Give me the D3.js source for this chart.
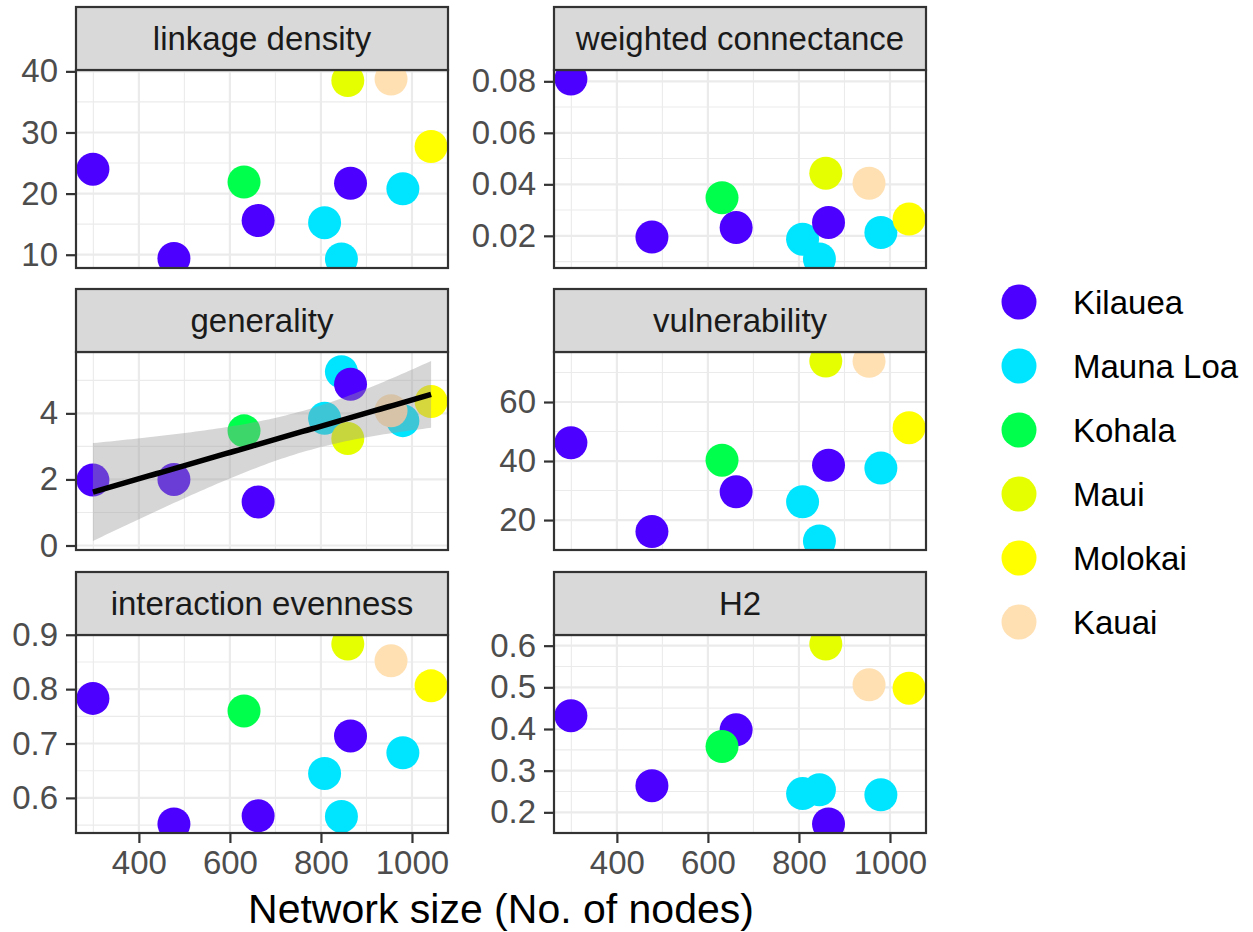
<!DOCTYPE html>
<html>
<head>
<meta charset="utf-8">
<script src="https://cdn.jsdelivr.net/npm/d3@7"></script>
<style>
  body { margin: 0; background: #fff; }
  text { font-family: "Liberation Sans", Arial, sans-serif; }
</style>
</head>
<body>
<svg id="chart" width="1253" height="932"></svg>
<script>
// sites and their colours (topo.colors palette)
const siteNames = ["Kilauea", "Mauna Loa", "Kohala", "Maui", "Molokai", "Kauai"]
const siteColors = ["#4C00FF", "#00E5FF", "#00FF4D", "#E6FF00", "#FFFF00", "#FFE0B3"]

// one entry per network
const site = ["Mauna Loa", "Mauna Loa", "Mauna Loa", "Kilauea", "Kilauea", "Kilauea", "Kohala", "Kilauea", "Maui", "Molokai", "Kauai"]
const nodes = [808, 845, 980, 299, 477, 662, 631, 865, 859, 1042, 954]

const linkageDensity = [15.25, 9.3, 20.8, 24.0, 9.4, 15.6, 21.9, 21.7, 38.5, 27.7, 38.75]
const weightedConnectance = [0.0187, 0.011, 0.0213, 0.0809, 0.0195, 0.0232, 0.0348, 0.0252, 0.0443, 0.0265, 0.0404]
const generality = [3.85, 5.26, 3.78, 1.98, 2.0, 1.32, 3.47, 4.88, 3.24, 4.36, 4.08]
const vulnerability = [26.2, 12.9, 37.6, 46.2, 16.1, 29.6, 40.3, 38.6, 73.9, 51.3, 73.8]
const interactionEvenness = [0.645, 0.566, 0.683, 0.783, 0.552, 0.567, 0.76, 0.714, 0.883, 0.806, 0.852]
const h2 = [0.245, 0.254, 0.242, 0.432, 0.264, 0.398, 0.358, 0.172, 0.604, 0.498, 0.506]

// tick labels
const xTicks = ["400", "600", "800", "1000"]
const ldTicks = ["10", "20", "30", "40"]
const wcTicks = ["0.02", "0.04", "0.06", "0.08"]
const genTicks = ["0", "2", "4"]
const vulTicks = ["20", "40", "60"]
const ieTicks = ["0.6", "0.7", "0.8", "0.9"]
const h2Ticks = ["0.2", "0.3", "0.4", "0.5", "0.6"]

const panels = [
  { title: "linkage density", values: linkageDensity, ticks: ldTicks },
  { title: "weighted connectance", values: weightedConnectance, ticks: wcTicks },
  { title: "generality", values: generality, ticks: genTicks, smooth: true },
  { title: "vulnerability", values: vulnerability, ticks: vulTicks },
  { title: "interaction evenness", values: interactionEvenness, ticks: ieTicks },
  { title: "H2", values: h2, ticks: h2Ticks }
]

// layout
const colX = [76, 554], panelW = 372
const rowTop = [7, 289, 572], stripH = 63, panelH = 198
const radius = 16.5
const grey20 = "#333333"
const smallFont = 33

const svg = d3.select("#chart")
svg.append("rect").attr("width", 1253).attr("height", 932).attr("fill", "#fff")

const color = d3.scaleOrdinal().domain(siteNames).range(siteColors)

function expand(ext, f) {
  const d = (ext[1] - ext[0]) * f
  return [ext[0] - d, ext[1] + d]
}

// minor breaks halfway between majors, one extra each side
function minors(major, dom) {
  const step = major[1] - major[0]
  const out = []
  for (let i = -1; i < major.length; i++) {
    const m = major[0] + step * (i + 0.5)
    if (m > dom[0] && m < dom[1]) out.push(m)
  }
  return out
}

// linear fit with 95% confidence band (like geom_smooth(method = "lm"))
function lmFit(xs, ys) {
  const n = xs.length
  const mx = d3.mean(xs), my = d3.mean(ys)
  let sxx = 0, sxy = 0
  xs.forEach((x, i) => { sxx += (x - mx) ** 2; sxy += (x - mx) * (ys[i] - my) })
  const b = sxy / sxx, a = my - b * mx
  let sse = 0
  xs.forEach((x, i) => { sse += (ys[i] - a - b * x) ** 2 })
  const s = Math.sqrt(sse / (n - 2))
  const t = 2.262 // qt(0.975, df = 9)
  const ext = d3.extent(xs)
  return d3.range(80).map(k => {
    const x = ext[0] + (ext[1] - ext[0]) * k / 79
    const fit = a + b * x
    const se = s * Math.sqrt(1 / n + (x - mx) ** 2 / sxx)
    return { x: x, y: fit, lo: fit - t * se, hi: fit + t * se }
  })
}

const xDomain = expand(d3.extent(nodes), 0.05)
const xMajor = xTicks.map(Number)
const xMinor = minors(xMajor, xDomain)

panels.forEach((p, i) => {
  const col = i % 2, row = Math.floor(i / 2)
  const left = colX[col], top = rowTop[row] + stripH
  const g = svg.append("g").attr("transform", "translate(" + left + "," + top + ")")

  let fitData = null
  let ext = d3.extent(p.values)
  if (p.smooth) {
    fitData = lmFit(nodes, p.values)
    ext = [Math.min(ext[0], d3.min(fitData, d => d.lo)), Math.max(ext[1], d3.max(fitData, d => d.hi))]
  }
  const yDomain = expand(ext, 0.05)

  const x = d3.scaleLinear().domain(xDomain).range([0, panelW])
  const y = d3.scaleLinear().domain(yDomain).range([panelH, 0])
  const yMajor = p.ticks.map(Number)
  const yMinor = minors(yMajor, yDomain)

  g.append("rect").attr("width", panelW).attr("height", panelH).attr("fill", "#fff")

  // grid
  const grid = g.append("g").attr("stroke", "#EBEBEB")
  grid.selectAll(".ymin").data(yMinor).enter().append("line")
    .attr("x1", 0).attr("x2", panelW).attr("y1", d => y(d)).attr("y2", d => y(d))
    .attr("stroke-width", 1.1)
  grid.selectAll(".xmin").data(xMinor).enter().append("line")
    .attr("y1", 0).attr("y2", panelH).attr("x1", d => x(d)).attr("x2", d => x(d))
    .attr("stroke-width", 1.1)
  grid.selectAll(".ymaj").data(yMajor).enter().append("line")
    .attr("x1", 0).attr("x2", panelW).attr("y1", d => y(d)).attr("y2", d => y(d))
    .attr("stroke-width", 2.2)
  grid.selectAll(".xmaj").data(xMajor).enter().append("line")
    .attr("y1", 0).attr("y2", panelH).attr("x1", d => x(d)).attr("x2", d => x(d))
    .attr("stroke-width", 2.2)

  // clipped data layer
  const clipId = "clip" + i
  g.append("clipPath").attr("id", clipId)
    .append("rect").attr("width", panelW).attr("height", panelH)
  const dataG = g.append("g").attr("clip-path", "url(#" + clipId + ")")

  dataG.selectAll("circle").data(p.values).enter().append("circle")
    .attr("cx", (d, k) => x(nodes[k]))
    .attr("cy", d => y(d))
    .attr("r", radius)
    .attr("fill", (d, k) => color(site[k]))

  if (fitData) {
    dataG.append("path").datum(fitData)
      .attr("d", d3.area().x(d => x(d.x)).y0(d => y(d.lo)).y1(d => y(d.hi)))
      .attr("fill", "#999999").attr("fill-opacity", 0.4)
    dataG.append("path").datum(fitData)
      .attr("d", d3.line().x(d => x(d.x)).y(d => y(d.y)))
      .attr("fill", "none").attr("stroke", "#000").attr("stroke-width", 5.5)
  }

  // panel border
  g.append("rect").attr("width", panelW).attr("height", panelH)
    .attr("fill", "none").attr("stroke", grey20).attr("stroke-width", 2.2)

  // strip
  const strip = svg.append("g").attr("transform", "translate(" + left + "," + rowTop[row] + ")")
  strip.append("rect").attr("width", panelW).attr("height", stripH)
    .attr("fill", "#D9D9D9").attr("stroke", grey20).attr("stroke-width", 2.2)
  strip.append("text").attr("x", panelW / 2).attr("y", stripH / 2).attr("dy", "0.35em")
    .attr("text-anchor", "middle").attr("font-size", smallFont).attr("fill", "#1A1A1A")
    .text(p.title)

  // y axis
  const yAxis = g.append("g").call(
    d3.axisLeft(y).tickValues(yMajor).tickFormat((d, k) => p.ticks[k]).tickSize(10).tickPadding(8))
  yAxis.select(".domain").remove()
  yAxis.selectAll("line").attr("stroke", grey20).attr("stroke-width", 2.2)
  yAxis.selectAll("text").attr("font-size", smallFont).attr("fill", "#4D4D4D").attr("font-family", null)

  // x axis only on the bottom row
  if (row === 2) {
    const xAxis = g.append("g").attr("transform", "translate(0," + panelH + ")").call(
      d3.axisBottom(x).tickValues(xMajor).tickFormat((d, k) => xTicks[k]).tickSize(10).tickPadding(8))
    xAxis.select(".domain").remove()
    xAxis.selectAll("line").attr("stroke", grey20).attr("stroke-width", 2.2)
    xAxis.selectAll("text").attr("font-size", smallFont).attr("fill", "#4D4D4D").attr("font-family", null)
  }
})

// x axis title
svg.append("text")
  .attr("x", (colX[0] + colX[1] + panelW) / 2).attr("y", 923)
  .attr("text-anchor", "middle").attr("font-size", 41).attr("fill", "#000")
  .text("Network size (No. of nodes)")

// legend
const legend = svg.append("g").attr("transform", "translate(1019,302)")
const items = legend.selectAll("g").data(siteNames).enter().append("g")
  .attr("transform", (d, i) => "translate(0," + i * 64 + ")")
items.append("circle").attr("r", 17.5).attr("fill", d => color(d))
items.append("text").attr("x", 54).attr("dy", "0.35em")
  .attr("font-size", smallFont).attr("fill", "#000").text(d => d)
</script>
</body>
</html>
